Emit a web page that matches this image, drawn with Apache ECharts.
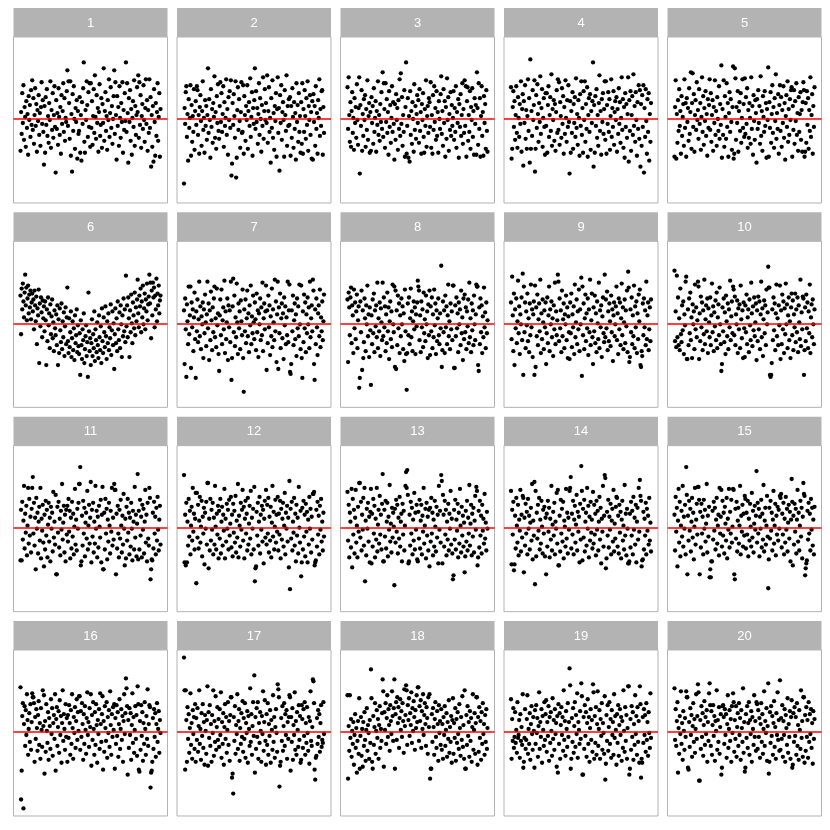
<!DOCTYPE html>
<html><head><meta charset="utf-8">
<script src="https://cdn.jsdelivr.net/npm/echarts@6/dist/echarts.min.js"></script>
<style>html,body{margin:0;padding:0;background:#fff}#c{width:830px;height:830px}</style>
</head><body><div id="c"></div>
<script>
const stripLabels = ['1','2','3','4','5','6','7','8','9','10','11','12','13','14','15','16','17','18','19','20'];

const panel1 = [-32,7,-15,26,-4,34,-21,12,2,-28,18,-9,5,-36,23,-1,14,-18,29,-6,
39,-11,21,-25,4,31,-7,15,-33,9,-2,24,-16,6,-27,12,37,-5,19,-13,
-46,13,-34,22,-6,30,-17,3,-24,16,-1,38,-29,9,-11,26,-19,4,33,-8,
-54,19,-10,6,-26,31,2,-16,12,-35,24,-5,8,36,-13,21,-22,1,-3,28,
49,-7,38,16,-20,38,-37,5,-53,25,-12,33,0,-30,11,-3,19,-40,8,-15,
-12,22,-34,4,-42,17,-5,31,57,-23,-34,9,-1,38,14,-18,27,-8,36,-28,
36,-9,18,-26,3,30,-14,44,2,-20,24,-4,11,-33,7,35,-17,-6,21,-29,
15,-4,51,-22,8,27,-12,3,-31,19,-1,40,-18,6,32,-9,13,-25,0,23,
49,-15,37,4,-41,23,-7,12,-27,33,1,-19,16,-3,37,-34,9,-11,26,-2,
57,-13,36,6,-44,21,-3,29,-22,10,-36,1,18,-8,39,-27,13,-16,4,32,
7,44,-19,37,-6,24,-29,3,15,-10,34,-1,-23,11,40,-5,19,-32,9,-14,
40,-9,22,-48,4,-28,13,-43,30,-3,-37,16,-17,7,36,-22,2,26,-38,10];

const panel2 = [-65,11,-5,27,33,-18,5,-42,20,-9,1,34,-37,14,-23,3,-13,30,-31,8,
18,-6,33,29,-16,4,-35,12,24,-2,-27,8,38,-11,1,-34,19,-7,13,-21,
4,51,-14,20,-1,-39,30,-8,10,-24,16,2,43,-19,7,-30,23,-4,35,-12,
-20,13,37,-3,26,-13,5,33,-28,17,-7,1,40,-16,10,-36,22,-1,28,-9,
39,-57,-45,16,-6,25,3,-19,38,-59,-39,9,32,-11,20,-2,-29,7,37,-14,
-13,34,-35,23,4,-22,13,-1,34,-30,8,17,-7,41,-18,2,27,-37,11,-5,
19,51,-10,28,-3,11,-25,5,36,-16,21,0,-33,14,-7,42,-20,8,30,-1,
16,-4,44,-24,8,32,-13,1,-44,21,-9,39,-19,6,-31,13,-2,26,-38,10,
42,-14,11,-52,24,-4,34,-21,7,17,-1,-38,29,4,-12,44,-27,13,-7,20,
-6,22,-37,13,-19,31,2,-29,17,-10,6,-41,36,-3,14,-23,26,-13,3,-34,
17,-25,36,-35,10,-13,29,3,-20,21,-6,38,-32,13,-1,24,-16,7,-40,18,
-41,25,-3,13,-27,33,-10,6,-35,19,1,40,-17,10,-7,28,29,-36,12,-14];

const panel3 = [32,-10,42,4,-23,17,-28,8,27,-14,1,-31,21,-4,12,-19,35,-1,-26,11,
42,-55,14,-7,29,-32,5,-17,20,-1,24,-28,10,-11,39,-21,3,16,-34,7,
-32,22,-4,13,-25,31,-13,1,18,-33,8,-6,38,-16,4,-22,15,-3,27,-10,
47,-18,36,10,-29,36,-3,20,-14,7,-36,28,-8,14,-24,1,33,-13,17,-5,
-41,15,-21,25,-1,11,-31,19,-10,40,-17,46,-5,22,-27,4,-13,29,-38,12,
57,-35,-7,21,-39,3,-43,28,-16,8,-25,17,0,-33,35,-11,13,-20,5,24,
-4,19,-24,30,-12,7,-35,15,-1,26,-18,-34,10,-7,39,-28,3,13,-14,21,
17,-8,37,-29,4,-35,24,-11,33,-3,11,-21,28,-17,7,-34,18,0,-10,25,
43,-15,8,-27,30,-4,18,-38,12,-20,41,-1,22,-32,5,-11,27,-17,14,-7,
1,28,-21,11,-13,33,-29,7,-4,20,-39,15,-8,25,-17,4,36,-25,10,-14,
39,-7,33,-38,18,32,-22,4,-13,28,-30,12,-1,31,-18,8,-36,21,-5,14,
-36,47,11,-26,36,-10,21,-38,3,33,-17,7,-37,23,-4,15,-30,29,-12,-33];

const panel4 = [32,-40,-30,12,28,-8,18,-21,4,33,-14,-29,22,1,-18,15,-5,38,-33,10,
25,-47,18,-4,34,-20,9,-30,3,40,-12,21,-44,60,-30,8,-17,29,-1,14,
39,-53,-30,24,-9,35,5,-23,16,-3,43,-15,11,30,-28,1,21,-8,-36,26,
-7,26,-34,14,33,-18,4,22,-12,45,-27,10,-1,19,-22,15,-32,7,29,-14,
40,-11,37,-26,17,3,-19,31,-5,23,-35,12,-15,39,1,-23,19,-8,34,-3,
-55,18,-34,8,-14,27,-30,15,-4,22,-18,41,-9,5,-26,19,1,-37,25,-7,
38,-16,11,-34,28,-1,38,-23,15,-10,32,-38,4,21,-13,25,-31,8,-4,18,
57,-48,14,-34,23,-7,30,-19,4,-27,16,44,-12,8,-36,20,-3,26,-15,10,
38,-21,38,-35,14,-5,27,-13,20,-31,3,40,-18,11,-8,28,-26,7,18,-1,
22,-33,10,-15,31,-5,17,-24,1,42,-11,20,-29,12,-39,26,-8,15,-19,5,
42,-43,19,-12,28,-32,4,23,-16,45,-7,13,-23,27,-1,-37,17,-10,34,-20,
29,-48,15,-27,24,-8,34,-54,11,-18,30,-2,-35,20,-13,26,-42,5,-23,16];

const panel5 = [-38,12,39,-40,5,-24,19,-12,30,-7,8,-35,23,-17,2,15,-27,40,-9,16,
-38,21,-3,11,-22,31,-15,7,47,-30,16,46,-8,25,-33,4,19,-11,37,-1,
9,-20,30,-5,16,-31,2,42,-13,23,-26,11,-2,28,-17,5,-37,20,-9,14,
40,-11,26,-23,4,19,-32,12,-4,39,-16,8,-27,22,0,-12,33,-20,15,-6,
54,-39,10,-16,39,-28,23,2,-20,36,-8,16,-38,6,27,-13,20,-3,-31,12,
53,-40,-35,51,41,-21,12,-4,28,-33,8,17,-12,26,-24,1,40,-9,15,-18,
41,-15,22,-5,31,-29,9,-19,16,1,-25,42,-10,13,-36,24,-2,-21,19,6,
-44,20,-10,29,-4,13,-25,43,-17,8,-32,23,2,-13,28,-7,16,-39,10,-1,
52,-38,17,-9,27,-24,5,34,-14,12,-29,21,-2,45,-20,6,-10,25,-35,14,
34,-12,22,-28,9,-4,33,-19,16,-41,3,24,-8,38,-23,10,-16,20,-1,29,
32,-38,13,-11,29,-25,18,-2,36,-16,6,-32,22,-13,5,27,-21,9,-33,17,
37,29,-38,-33,16,-24,28,-6,21,-30,9,-12,42,-18,4,25,-35,13,-8,32];

const panel6 = [28,-11,35,14,40,22,6,31,49,18,36,3,25,38,10,29,16,33,4,21,
30,12,24,-6,33,18,2,27,-21,15,8,34,-40,20,-3,26,11,-14,23,5,
17,-8,22,3,-42,14,-18,26,-2,10,-25,19,-11,7,24,-15,1,-28,13,-5,
-12,9,-22,18,-42,4,-30,15,-7,-19,20,-26,2,-14,11,-33,-3,16,-21,6,
36,-18,-30,5,-24,-9,12,-34,-15,2,-27,-5,-37,8,-20,-12,14,-29,-2,-23,
-31,-10,-52,3,-22,-36,-6,-17,10,-40,-26,-13,-2,-33,-19,-54,31,-8,-28,-15,
-42,-20,4,-33,-11,-25,12,-38,-6,-17,-29,1,-22,-35,8,-14,-27,-3,-40,15,
-18,-30,6,-9,-24,17,-13,-36,2,-20,10,-27,-4,-15,19,-32,-7,12,-22,0,
-46,-11,15,-20,5,-28,22,-6,-17,11,-25,18,-1,-34,8,-13,25,-8,14,-19,
48,-3,18,-14,26,5,-34,13,-9,29,0,-20,21,8,-5,31,-12,16,2,24,
44,10,-4,28,17,35,-9,22,6,38,-1,15,30,-6,24,12,40,3,19,27,
49,20,41,-15,33,8,41,26,36,-4,28,14,45,2,30,18,38,10,23,28];

const panel7 = [13,-41,25,-6,-54,19,2,-21,37,-11,8,37,-45,21,-4,14,-28,6,31,-16,
-55,12,-8,24,-19,4,42,-13,17,-26,7,-1,21,-35,14,-10,29,1,-23,9,
42,-5,20,-37,13,-17,32,3,-27,16,-9,25,37,-14,5,-24,35,-2,10,-31,
-48,8,24,-12,34,-21,3,16,-6,43,-30,12,-16,1,25,-37,18,-4,13,-19,
42,-57,-35,17,45,-9,28,-23,6,-14,40,1,-31,20,-5,12,-26,23,2,-12,
34,-35,-69,14,-8,24,-20,5,33,-13,10,-29,18,-2,38,-21,7,-10,28,1,
-16,21,4,-27,30,-9,13,-34,10,-1,25,-17,16,-12,41,-28,5,20,-6,12,
38,-47,13,-20,28,-4,18,-32,7,-13,35,-24,14,1,-17,44,-8,22,-39,9,
42,-46,16,-10,30,-25,5,20,-15,10,-36,26,-2,17,-21,6,-12,42,-19,13,
39,-49,-51,-41,13,-8,28,-22,3,20,-16,9,-33,25,-5,17,-13,39,-1,-26,
38,-35,-55,12,-19,29,-5,21,-29,9,-10,26,-1,16,-25,42,-14,5,18,-8,
44,33,-41,-57,14,-21,25,-4,-32,10,18,-13,34,-24,6,-8,22,-17,2,29];

const panel8 = [24,-39,31,16,-12,26,36,-20,18,8,-30,34,-5,21,-16,12,29,-25,3,17,
-65,-55,22,-9,33,-47,13,-35,-19,25,5,-28,18,-1,38,-13,9,-34,16,-7,
-62,8,-21,24,-10,30,-29,13,-3,18,-14,41,-25,5,-8,21,-33,15,1,-17,
41,-13,26,-4,17,-28,9,-20,31,-8,16,-36,2,22,-16,12,-24,39,-1,-9,
37,-44,33,-46,13,-22,28,-5,20,-30,8,-13,25,-1,17,-26,10,-38,34,-8,
-31,-67,-30,20,-12,26,-21,5,35,-14,12,-28,2,22,-6,16,-31,9,-3,21,
43,37,33,-17,8,-29,22,-4,14,-24,31,-10,4,-18,28,-1,12,-35,19,-12,
33,-32,17,-8,26,-25,9,-14,34,-2,20,-31,13,-18,5,25,-12,-21,10,-5,
58,-44,-27,22,-9,13,-30,28,-4,17,-21,8,39,-13,2,-26,20,-6,12,-17,
38,38,-45,-45,18,-13,26,-5,10,-29,21,-1,14,-22,33,-10,6,-37,25,-16,
29,-9,16,-26,12,-3,24,-20,41,-14,5,-29,20,-7,13,-22,28,-1,-17,9,
39,37,37,-42,-48,16,-21,25,-9,18,-30,7,-14,36,-4,11,-25,21,-10,3];

const panel9 = [21,-16,47,8,-28,30,-42,14,-5,25,-20,2,43,-10,17,-31,9,-1,26,-17,
50,-52,37,-9,21,-25,12,-2,30,-18,5,-29,20,-12,39,-4,14,-34,9,22,
-52,38,-44,16,-13,29,-22,4,20,-8,44,-30,10,-16,24,1,-26,13,-4,21,
-41,-10,26,-20,8,37,-28,14,-1,22,-14,5,-33,18,-6,41,-21,12,-12,3,
49,42,-18,25,-5,13,-29,33,-13,4,20,-25,9,-1,28,-17,16,-35,7,-9,
-36,21,-10,30,-24,9,-4,17,-31,39,-14,1,24,-21,12,-6,34,-28,14,-1,
46,-53,37,-12,20,-26,5,29,-18,10,-5,25,-32,14,-9,44,-22,3,30,-14,
-41,16,-8,28,-20,10,-29,22,0,-16,41,-25,13,-4,18,-34,7,26,-10,-19,
49,-14,24,-5,32,-27,12,-18,20,2,-23,28,-9,14,-38,8,21,-13,-1,17,
37,-17,10,-31,25,-6,21,-22,5,40,-12,16,-26,1,24,-20,13,-3,33,-29,
52,36,-39,-34,14,-9,26,-21,8,-13,38,-25,17,-4,22,-30,10,-16,29,2,
34,-42,-44,-28,-33,20,-12,25,-4,13,-22,42,-16,8,21,-27,-6,16,-18,24];

const panel10 = [53,-18,12,-24,48,-14,26,-22,5,-27,35,-11,-19,18,-7,22,-31,9,-2,42,
47,-36,-36,14,-22,25,-10,31,-17,6,-35,19,-1,12,-26,39,-6,16,-14,3,
42,37,-36,10,-18,27,-4,21,-27,13,-11,44,-21,4,18,-8,25,-30,15,1,
-14,26,-22,8,40,-9,17,-28,11,-3,23,-17,31,-25,6,19,-12,36,-1,-21,
-48,-41,16,-8,25,-19,11,-31,28,2,-13,20,-26,14,-4,43,-17,7,22,-10,
37,34,-12,27,-22,9,-1,23,-30,15,-6,19,-25,38,4,-15,13,-35,21,-5,
-34,18,-9,29,-21,6,14,-29,24,-2,-17,41,10,-23,17,-7,26,-13,1,20,
-37,13,-18,27,-6,22,-26,9,42,-14,15,-33,4,23,-10,18,-22,34,-1,11,
57,36,36,-52,-54,-52,-40,14,-17,26,-7,20,-27,10,39,-13,5,-22,18,-2,
38,-36,13,-21,29,-6,22,-30,15,-11,40,-1,19,-25,8,26,-17,2,-35,16,
30,-12,23,-27,9,-4,30,-19,14,-9,26,-29,18,1,-16,44,-23,11,-6,27,
25,-52,-27,16,-18,29,-5,21,-25,12,-10,39,-30,6,19,-14,24,-1,-21,14];

const panel11 = [-33,18,-33,26,-12,7,42,-21,14,-5,22,-28,2,40,-16,29,-8,11,-25,19,
40,51,-6,25,-18,10,-42,30,-1,15,-26,6,21,-13,40,-31,9,-3,23,-15,
-39,13,-22,27,-8,18,-30,3,25,-14,10,-34,21,-1,15,-24,36,-10,6,-17,
33,-47,-47,21,-5,26,-20,9,-28,17,-2,44,-12,5,22,-25,13,-34,18,-7,
22,-14,29,-4,17,-31,10,-21,26,-9,14,-27,1,39,-17,8,-23,19,-1,25,
44,44,61,-38,-34,12,-18,27,-6,20,-29,5,15,-11,37,-22,2,23,-16,10,
46,-35,18,-9,25,-25,6,-16,42,-1,17,-30,11,-20,22,1,-10,28,-35,13,
41,-42,-42,15,-22,29,-6,19,-32,8,-14,25,2,-26,17,-4,40,-18,10,-12,
44,38,38,-47,14,-21,22,-6,-30,18,-11,28,2,-25,12,-17,34,-1,-38,9,
-31,21,-13,29,-5,15,-27,10,-19,25,-1,-33,17,6,-22,41,-10,13,-29,4,
54,-32,17,-22,28,-8,11,-30,23,-2,19,-26,6,38,-15,13,-34,25,-11,-18,
40,30,-52,-42,-32,-33,15,-21,26,-6,11,-27,20,-13,31,-2,-23,8,22,-17];

const panel12 = [53,-35,13,-38,25,-35,6,-18,29,-9,17,-27,2,21,-13,40,-4,14,-22,9,
35,-56,35,-10,23,-21,7,31,-15,1,27,-29,11,-6,20,-37,15,-1,26,-17,
45,45,-41,9,-23,29,-13,18,-2,25,-27,10,-17,42,1,-22,14,-7,22,-31,
17,-11,29,-26,6,21,-18,13,-3,39,-31,9,-14,24,-1,18,-22,28,-8,4,
31,-20,13,-29,24,-5,17,-15,32,-25,7,-10,44,-30,12,2,-19,25,-2,18,
38,-13,21,-31,9,27,-6,14,-23,30,-17,4,22,-11,37,-27,10,-1,19,-22,
41,-54,-41,-39,16,-8,25,-18,6,31,-26,13,-2,22,-14,18,-36,9,27,-10,
38,-17,23,-6,30,-25,11,-13,21,-30,5,42,-9,16,-22,1,28,-15,13,-4,
31,-23,14,-7,27,-31,19,-12,9,25,-19,2,35,-27,15,-1,22,-14,10,-40,
47,-62,19,-11,26,-23,6,-5,30,-18,14,-34,23,-8,10,-26,41,0,-15,17,
-49,-35,20,-22,27,-9,13,-29,24,-4,16,-35,8,-17,31,-1,19,-25,11,-12,
34,34,36,-38,-35,-33,18,-19,26,-7,12,-27,22,-2,29,-14,6,-23,15,-9];

const panel13 = [36,-13,23,-30,15,6,-20,39,-40,29,-7,18,-26,10,38,-15,2,-30,21,-4,
45,45,-10,26,-23,13,-2,30,-18,40,-54,7,-28,19,-1,25,-14,11,-35,16,
39,-36,14,-19,29,-6,22,-30,9,-12,40,-24,3,18,-16,32,-7,13,-22,24,
54,-34,-34,18,-9,27,-21,6,25,-29,11,-2,43,-14,4,-25,20,-10,15,1,
-58,19,-15,28,-4,23,-26,10,-11,31,-19,6,14,-34,24,-7,17,-23,2,42,
56,40,58,33,-36,-34,13,-18,26,-6,20,-27,8,-13,35,-22,15,-2,23,-32,
-34,16,-11,28,-21,7,23,-27,12,-4,40,-16,2,19,-31,25,-8,11,-23,18,
-39,20,-14,30,-6,15,-28,8,-19,27,1,-24,21,-10,13,-36,42,-2,17,-15,
53,47,-36,33,13,-19,27,-7,18,-28,6,-12,24,-23,14,-1,37,-17,9,-26,
-52,-48,18,-12,28,-22,8,-3,24,-30,15,-16,39,2,-25,21,-8,12,-19,5,
-45,-29,17,-14,27,-23,10,-6,43,-18,4,23,-28,14,-9,20,-25,7,32,-2,
41,37,-38,-30,17,-20,27,-8,12,-26,23,-3,9,-16,34,-11,5,-23,16,-1];

const panel14 = [37,-37,18,-7,26,-43,-37,12,-21,30,2,-15,23,-28,8,-3,38,-24,13,-10,
32,30,-45,10,-18,24,-6,16,-27,29,-1,12,-22,5,20,-13,44,-32,7,-8,
46,-57,37,-29,15,-11,23,-3,30,-22,8,-16,27,1,-26,18,-6,21,-29,10,
-47,14,-19,27,-4,20,-30,9,-12,42,-23,3,16,-8,25,-27,6,-1,35,-16,
38,-38,-38,12,-24,28,-6,19,-14,26,-31,7,1,-19,39,-11,15,-26,10,-2,
37,40,51,-21,14,-7,27,-27,8,22,-15,3,33,-23,16,-4,11,-35,24,-12,
62,37,-33,19,-10,28,-24,6,15,-18,40,-1,22,-30,11,-13,26,-5,8,-21,
36,-16,23,-7,14,-28,27,-2,17,-23,6,31,-12,20,-36,9,-4,42,-19,12,
53,50,-41,-31,16,-8,28,-20,11,-2,24,-27,7,19,-14,38,-24,4,-11,21,
31,30,-19,12,-26,23,-5,16,-31,8,27,-13,2,-22,43,-8,14,-28,19,-1,
-36,-36,-34,14,-20,26,-8,17,-27,31,-2,10,-17,23,-35,6,20,-12,40,-4,
48,32,27,-39,-33,-32,16,-22,9,-8,25,-27,19,-3,12,-17,30,-13,5,-24];

const panel15 = [13,-23,31,-4,20,-39,7,39,-15,26,-29,2,17,-9,42,-19,11,-1,23,-27,
61,33,-47,12,-13,27,-3,19,-24,6,30,-10,15,-32,1,40,-17,8,24,-7,
41,41,28,-47,16,-20,24,-6,11,-27,28,-1,18,-14,4,44,-25,12,-9,21,
-50,-42,-50,-34,-34,17,-12,26,-3,20,-22,8,30,-16,2,13,-28,40,-6,11,
38,-19,27,-8,15,-26,21,4,-13,30,-31,9,-2,39,-20,16,-6,28,-15,1,
39,38,-47,-52,19,-11,26,-24,7,20,-16,2,42,-27,12,-4,23,-19,14,-8,
32,29,-21,15,-7,27,-29,9,-13,24,1,-19,35,-10,17,-25,4,22,-2,12,
57,-15,25,-6,19,-29,11,-1,28,-20,14,-12,43,-24,7,20,-17,2,32,-9,
-61,-32,20,-11,27,-3,15,-23,8,37,-16,2,24,-28,12,-7,21,-13,18,-1,
32,30,34,-20,14,-7,25,-27,9,-15,31,-2,19,-24,5,23,-11,16,-34,8,
49,26,-38,12,-17,24,-4,19,-26,8,38,-14,15,-23,2,27,-9,20,-31,11,
45,34,32,-48,-41,-36,-33,17,-12,25,-6,14,-23,29,-2,20,-18,8,-27,21];

const panel16 = [45,-68,-39,16,29,-77,8,26,-14,22,-3,38,12,-23,3,19,-10,28,-18,10,
39,35,35,29,-30,15,-7,23,4,-19,17,31,-13,9,-27,24,2,-15,42,6,
37,-42,11,-20,28,1,-11,20,-28,14,6,-17,33,-2,24,-24,9,17,-7,38,
-39,13,25,-14,5,21,-21,32,-3,16,-31,9,42,-9,18,3,-18,28,-5,14,
-30,17,-6,27,9,-23,22,-12,38,4,-27,15,-1,25,-16,11,33,-8,20,1,
36,36,-18,21,-5,29,8,-28,18,-12,26,2,-22,14,40,-3,10,-15,24,5,
38,-34,17,-8,30,3,-23,20,-13,28,7,-31,12,-2,23,-17,39,8,-10,18,
36,-38,11,-20,26,4,-9,30,-26,15,-1,22,-15,41,7,-23,18,-5,25,2,
28,-37,14,-12,27,-4,20,-25,8,33,-17,3,23,-8,16,-30,11,38,-2,19,
54,44,26,-43,12,-16,24,-3,19,-28,7,39,-11,15,-21,2,26,-7,17,-24,
46,28,-38,-40,11,-18,27,-4,20,-29,9,-12,30,3,-23,16,-7,43,-14,8,
27,25,-56,-41,-39,-30,14,-17,23,-5,19,-25,8,29,-10,3,21,-21,12,-1];

const panel17 = [75,42,-38,42,12,-30,25,-7,18,-21,4,39,-13,9,-27,22,-2,15,-17,28,
-30,14,-8,24,-20,6,42,-12,3,-28,19,-4,28,-16,10,-33,17,1,-22,12,
46,-34,20,-6,27,-14,8,-30,17,-1,42,-24,11,-10,36,-18,5,25,-8,13,
-15,23,-3,40,-26,10,-12,19,-33,5,28,-7,15,-21,2,30,-13,11,-29,17,
35,35,-46,-42,-62,15,-9,26,-22,7,-2,38,-17,11,23,-29,4,-12,19,-5,
31,-20,14,-7,29,-26,9,-1,21,-31,16,3,-14,44,-10,18,-23,6,30,-4,
57,-41,15,-17,24,-5,30,-27,9,-11,20,1,-30,16,-2,41,-19,10,32,-9,
-33,18,-13,29,-23,8,-4,22,-31,12,2,-18,37,-10,15,-26,5,23,-1,-20,
48,43,35,-55,-34,-30,14,-9,26,-19,6,29,-14,18,-3,22,-27,10,-7,15,
37,35,-39,15,-10,24,-28,7,-3,40,-18,11,-23,20,2,-15,27,-8,16,-31,
-28,27,13,-16,23,-4,30,-23,9,-11,25,-1,-19,15,-32,11,41,-9,-14,5,
53,51,29,-38,-48,-26,-24,14,-12,22,-5,18,-20,9,27,-15,-8,-11,30,-2];

const panel18 = [37,-47,6,-19,37,-6,13,-25,1,-12,10,-33,-3,18,-16,4,-41,-9,11,-22,
34,-37,-4,15,-24,3,-35,10,-14,20,-8,-29,2,24,-19,7,-1,-27,12,-11,
63,34,-30,-37,16,-13,5,29,-22,1,22,-6,13,-27,7,26,-16,3,-9,19,
53,41,-35,20,2,29,-12,14,37,-5,23,7,-19,27,11,-2,41,16,-9,24,
53,-37,18,30,-8,35,9,25,-16,14,33,2,21,-5,29,11,-21,43,6,17,
47,42,-13,27,12,34,-4,19,7,40,-11,24,1,31,15,-18,22,4,37,10,
45,45,-9,26,11,32,-16,21,3,38,-3,17,29,8,-14,25,14,-22,35,5,
38,-47,-37,-37,18,-10,24,5,-23,13,30,-5,-16,21,8,-29,27,-1,11,-13,
23,-18,8,-27,15,-3,26,-14,2,19,-25,10,-7,32,-21,5,-10,16,-31,12,
34,-22,9,-6,24,-29,13,-11,20,-2,-17,28,4,-24,15,-8,36,-15,7,-27,
42,-37,-37,17,-13,26,-4,10,-25,21,-9,14,-30,5,38,-18,2,19,-22,9,
35,35,-33,15,-20,25,-6,11,-28,20,-12,29,-2,8,-23,17,-10,23,-17,4];

const panel19 = [33,-27,13,-9,24,-16,-5,20,-11,2,-21,30,-6,-3,12,-26,18,-9,5,-13,
38,-36,-30,-6,23,-17,-8,13,37,-22,3,-12,19,-28,8,26,-2,-18,15,1,
-36,22,-12,27,-1,14,-25,6,40,-17,10,-5,23,-31,16,2,-14,30,-8,18,
32,-20,10,-4,26,-29,15,-11,20,1,-24,34,-7,12,-18,23,-2,9,-35,16,
-41,28,-12,19,-27,7,25,-3,15,-19,42,-8,11,-24,21,3,-15,29,-5,10,
64,47,-37,-27,14,-10,24,-21,6,30,-15,17,-2,39,-26,10,2,-12,21,-7,
49,36,-43,-43,15,-17,27,-4,20,-25,9,33,-12,15,-30,4,23,-8,12,-20,
48,40,-27,16,-11,25,-23,8,41,-14,3,22,-27,13,-4,29,-18,9,-1,-22,
36,-48,-32,17,-9,27,-19,5,30,-12,13,-26,22,-3,10,-23,38,-6,16,2,
-33,18,-11,27,-24,7,23,-3,15,-29,11,-16,42,1,-20,25,-9,17,-27,4,
46,46,-43,-37,13,-18,26,-5,20,-28,8,-13,37,-2,16,-23,25,-10,11,-31,
46,28,-46,-27,-31,15,-11,23,-3,17,-20,29,-8,10,-24,20,-1,-16,39,-6];

const panel20 = [44,-8,23,-14,11,30,-41,4,-22,16,-2,41,-12,9,-28,21,1,-18,14,-5,
41,35,35,-36,-38,10,-15,24,-3,17,-25,6,29,-10,13,-21,3,38,-7,16,
48,40,-49,-49,12,-17,26,-5,19,-24,7,31,-13,15,-2,22,-30,10,-9,39,
49,27,-14,21,-23,7,27,-4,16,-29,11,1,42,-18,12,-10,25,-22,5,18,
-43,-36,26,27,15,-12,23,-3,18,-26,8,37,-16,3,22,-9,13,-30,26,-1,
39,30,-20,12,-7,26,-25,5,19,-14,29,-3,14,-28,22,4,-10,44,-21,10,
-40,-36,18,-6,26,-16,9,30,-23,12,-2,21,-30,15,3,-13,37,-5,11,-19,
30,28,-17,22,-5,14,-26,8,29,-10,18,-22,3,41,-14,11,-1,24,-29,6,
49,-42,-30,20,-11,26,-4,16,-23,9,31,-15,5,-27,19,-3,40,-8,12,-19,
52,-18,14,-7,27,-25,11,-3,23,-30,17,4,-13,34,-21,8,-5,21,-27,15,
32,-36,-33,19,-10,25,-4,15,-23,29,-14,7,-28,22,2,-17,42,-6,11,-25,
35,35,-31,17,-19,25,-5,12,-26,30,-10,18,-2,23,-16,9,-32,21,-7,13];

const panels = [panel1,panel2,panel3,panel4,panel5,panel6,panel7,panel8,panel9,panel10,
  panel11,panel12,panel13,panel14,panel15,panel16,panel17,panel18,panel19,panel20];

// layout
const colLeft = [13.5, 177, 340.5, 504, 667.5];
const panelW = 154, stripH = 29, plotH = 166, rowPitch = 204.33, firstTop = 8;
const allVals = panels.flat();
const dMin = Math.min(...allVals), dMax = Math.max(...allVals);
const pad = (dMax - dMin) * 0.05;

const chart = echarts.init(document.getElementById('c'), null, {renderer: 'canvas'});
const grids = [], xAxes = [], yAxes = [], series = [], graphics = [];
panels.forEach((arr, k) => {
  const r = Math.floor(k / 5), c = k % 5;
  const left = colLeft[c];
  const stripTop = firstTop + r * rowPitch;
  const top = stripTop + stripH;
  const n = arr.length;
  grids.push({left: left, top: top, width: panelW, height: plotH, show: true,
    borderColor: '#b3b3b3', borderWidth: 1, backgroundColor: '#ffffff', containLabel: false});
  xAxes.push({type: 'value', gridIndex: k, min: -0.05 * (n - 1), max: 1.05 * (n - 1), show: false, splitLine: {show: false}});
  yAxes.push({type: 'value', gridIndex: k, min: dMin - pad, max: dMax + pad, show: false, splitLine: {show: false}});
  series.push({
    type: 'scatter', xAxisIndex: k, yAxisIndex: k,
    data: arr.map((v, i) => [i, v]),
    symbol: 'circle', symbolSize: 4.3,
    itemStyle: {color: '#000000', opacity: 1},
    silent: true, animation: false, z: 2,
    markLine: {silent: true, symbol: 'none', animation: false,
      label: {show: false},
      lineStyle: {color: '#ff0000', width: 1.6, type: 'solid', opacity: 1},
      emphasis: {disabled: true},
      data: [{yAxis: 0}]}
  });
  graphics.push({type: 'rect', silent: true, shape: {x: left, y: stripTop, width: panelW, height: stripH},
    style: {fill: '#b3b3b3'}});
  graphics.push({type: 'text', silent: true, x: left + panelW / 2, y: stripTop + stripH / 2 + 0.5,
    style: {text: stripLabels[k], fill: '#ffffff', font: '13px "Liberation Sans", Arial, sans-serif',
      textAlign: 'center', textVerticalAlign: 'middle', align: 'center', verticalAlign: 'middle'}});
});

chart.setOption({
  animation: false,
  backgroundColor: '#ffffff',
  grid: grids, xAxis: xAxes, yAxis: yAxes, series: series,
  graphic: graphics
});
</script>
</body></html>
